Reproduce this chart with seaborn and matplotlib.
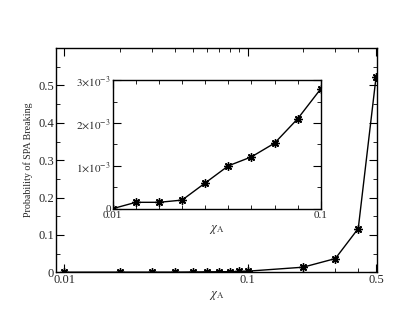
import numpy as np
import pandas as pd
import matplotlib
matplotlib.use("Agg")
import matplotlib.pyplot as plt
import seaborn as sns
from matplotlib.ticker import FixedLocator, NullFormatter, MultipleLocator

# main curve
chi_main = [0.01, 0.02, 0.03, 0.04, 0.05, 0.06, 0.07, 0.08, 0.09, 0.1, 0.2, 0.3, 0.4, 0.5]
prob_main = [0.0, 0.00015, 0.00015, 0.0002, 0.0006, 0.001, 0.0012, 0.00153, 0.0021, 0.0028,
             0.0134, 0.0365, 0.117, 0.522]

# inset (zoom on small chi)
chi_inset = [0.01, 0.02, 0.03, 0.04, 0.05, 0.06, 0.07, 0.08, 0.09, 0.1]
prob_inset = [0.0, 0.148e-3, 0.148e-3, 0.2e-3, 0.6e-3, 1.0e-3, 1.21e-3, 1.53e-3, 2.10e-3, 2.80e-3]

sns.set_style("ticks")
plt.rcParams['font.family'] = ['Liberation Serif', 'DejaVu Serif']
plt.rcParams['mathtext.fontset'] = 'stix'

fig = plt.figure(figsize=(4.15, 3.21), dpi=100)
ax = fig.add_axes([0.135, 0.152, 0.773, 0.698])
ins = fig.add_axes([0.2716, 0.350, 0.5014, 0.400])

star = (8, 2, 0)
df_main = pd.DataFrame({"chi": chi_main, "p": prob_main})
df_ins = pd.DataFrame({"chi": chi_inset, "p": prob_inset})

for a, d in ((ax, df_main), (ins, df_ins)):
    sns.lineplot(data=d, x="chi", y="p", ax=a, color="black", lw=1.0,
                 marker=star, markersize=6, markeredgewidth=1.0,
                 markeredgecolor="black", markerfacecolor="black")

# main axes
ax.set_xscale("log")
ax.set_xlim(0.009, 0.505)
ax.set_ylim(0, 0.6)
ax.xaxis.set_major_locator(FixedLocator([0.01, 0.1, 0.5]))
ax.set_xticklabels(["0.01", "0.1", "0.5"])
ax.xaxis.set_minor_locator(FixedLocator([0.02, 0.03, 0.04, 0.05, 0.06, 0.07, 0.08, 0.09,
                                         0.2, 0.3, 0.4]))
ax.xaxis.set_minor_formatter(NullFormatter())
ax.set_yticks([0, 0.1, 0.2, 0.3, 0.4, 0.5])
ax.set_yticklabels(["0", "0.1", "0.2", "0.3", "0.4", "0.5"])
ax.yaxis.set_minor_locator(MultipleLocator(0.05))
ax.set_xlabel(r"$\chi_{\mathrm{A}}$", fontsize=9, labelpad=2)
ax.set_ylabel("Probability of SPA Breaking", fontsize=7.2, labelpad=4)

# inset axes
ins.set_xlim(0.01, 0.1)
ins.set_ylim(0, 3e-3)
ins.set_xticks([0.01, 0.1])
ins.set_xticklabels(["0.01", "0.1"])
ins.xaxis.set_minor_locator(FixedLocator(chi_inset[1:-1]))
ins.set_yticks([0, 1e-3, 2e-3, 3e-3])
ins.set_yticklabels(["0", r"$1{\times}10^{-3}$", r"$2{\times}10^{-3}$", r"$3{\times}10^{-3}$"])
ins.yaxis.set_minor_locator(MultipleLocator(0.5e-3))
ins.set_xlabel(r"$\chi_{\mathrm{A}}$", fontsize=9, labelpad=2)
ins.set_ylabel("")

for a, fs in ((ax, 9), (ins, 8)):
    a.tick_params(which="both", direction="in", top=True, right=True, labelsize=fs,
                  color="black", pad=1.5)
    a.tick_params(which="major", length=6, width=0.8)
    a.tick_params(which="minor", length=3, width=0.6)
    for s in a.spines.values():
        s.set_linewidth(1.0)
        s.set_color("black")

fig.savefig("out.png", dpi=100)
